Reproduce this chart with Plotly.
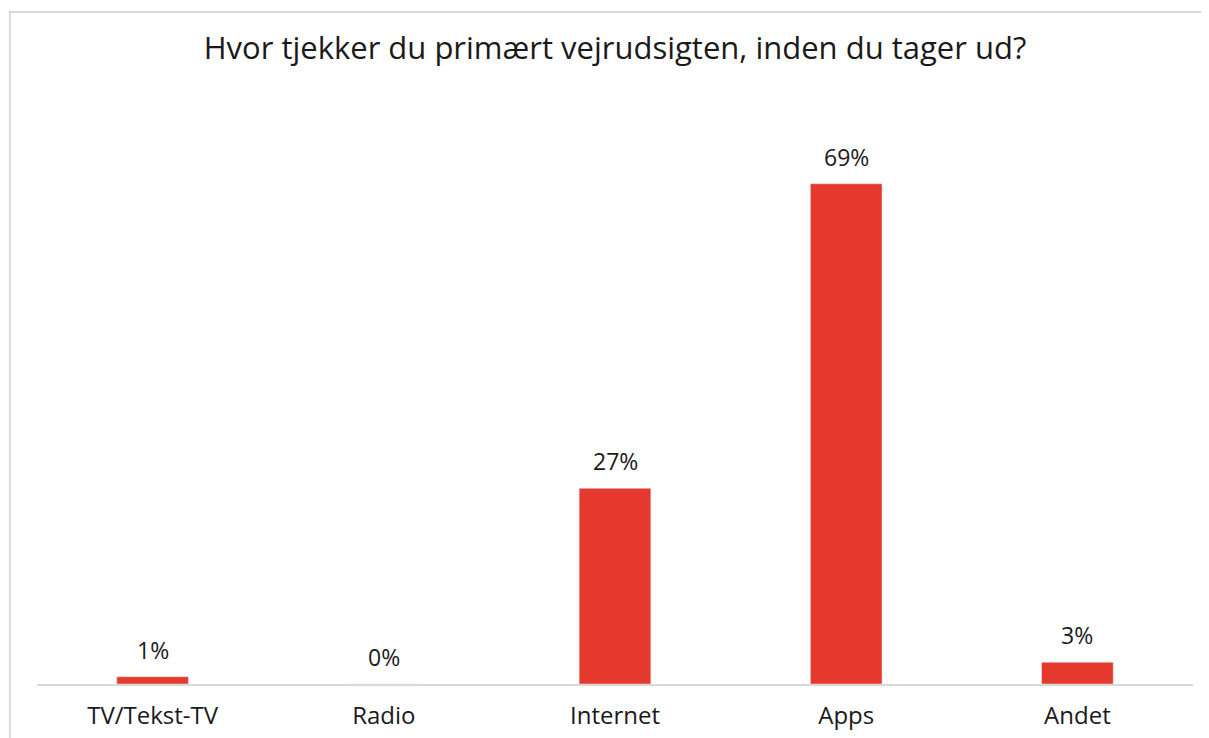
import plotly.graph_objects as go

categories = ["TV/Tekst-TV", "Radio", "Internet", "Apps", "Andet"]
values = [0.01, 0.0, 0.27, 0.69, 0.03]
labels = ["1%", "0%", "27%", "69%", "3%"]

title = "Hvor tjekker du primært vejrudsigten, inden du tager ud?"
bar_color = "#E5392D"
font_family = "'Open Sans', Lato, sans-serif"

fig = go.Figure()
fig.add_trace(go.Bar(
    x=categories, y=values, marker_color=bar_color, width=0.31,
    hoverinfo="x+y",
))

# datalabels over bars
for c, v, t in zip(categories, values, labels):
    fig.add_annotation(
        x=c, y=v, text=t, showarrow=False, yanchor="bottom",
        yshift=9, font=dict(size=23, color="#1a1a1a", family=font_family),
    )

# outer chart border (cropped at right/bottom)
fig.add_shape(
    type="rect", xref="paper", yref="paper",
    x0=-0.0235, x1=1.2, y0=-0.3, y1=1.1586,
    line=dict(color="#d9d9d9", width=2), fillcolor="rgba(0,0,0,0)",
    layer="below",
)

fig.update_layout(
    width=1209, height=738,
    title=dict(text=title, x=0.5, xref="paper", y=0.946, yanchor="middle",
               font=dict(size=31, color="#1a1a1a", family=font_family)),
    margin=dict(l=29, r=24, t=96, b=62),
    paper_bgcolor="white", plot_bgcolor="white",
    showlegend=False, bargap=0.69,
    xaxis=dict(showline=True, linecolor="#d9d9d9", linewidth=2,
               ticks="", showgrid=False, ticklabelstandoff=9,
               tickfont=dict(size=24, color="#1a1a1a", family=font_family)),
    yaxis=dict(range=[0, 0.8], visible=False, showgrid=False, zeroline=False),
)

fig.write_html("out.html")
